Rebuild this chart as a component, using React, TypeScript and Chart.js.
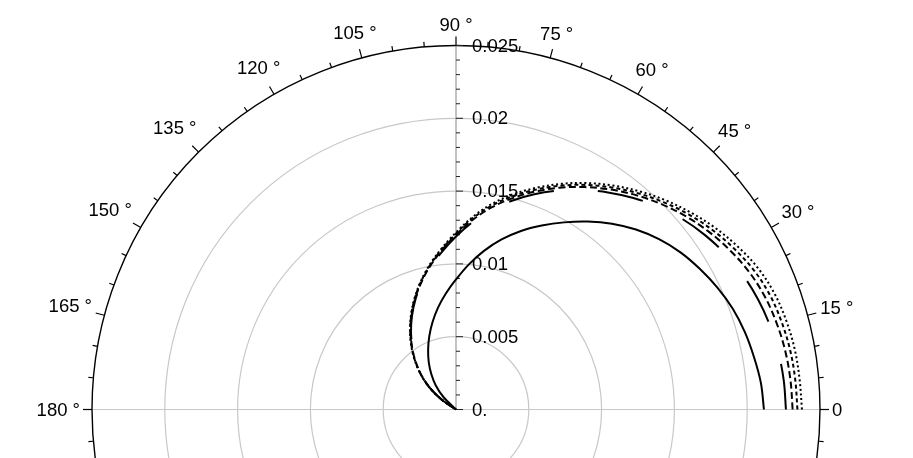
import { useEffect, useRef } from "react"
import { Chart, registerables } from "chart.js"

Chart.register(...registerables)

// angle of each sample, degrees
const angles = [
  0, 5, 10, 15, 20, 25, 30, 35, 40, 45, 50, 55, 60, 65, 70, 75, 80, 85, 90, 95, 100, 105, 110, 115, 120, 125,
  130, 135, 140, 145, 150,
]

// radius of each curve at those angles (null = curve already ended at the origin)
const solidR = [
  0.02115, 0.02102, 0.02078, 0.02054, 0.02023, 0.01981, 0.01933, 0.01882, 0.0182, 0.01748, 0.01666, 0.01576,
  0.01484, 0.01394, 0.01305, 0.01209, 0.01106, 0.00999, 0.00893, 0.008, 0.00711, 0.00622, 0.00536, 0.00453,
  0.00374, 0.00295, 0.00216, 0.00124, 0, null, null,
]
const longDashR = [
  0.02266, 0.0226, 0.02249, 0.02232, 0.02208, 0.02177, 0.02136, 0.02088, 0.02033, 0.01968, 0.01896, 0.0182,
  0.01741, 0.01659, 0.01573, 0.01484, 0.01391, 0.01291, 0.01188, 0.01089, 0.00996, 0.00903, 0.0081, 0.00714,
  0.00618, 0.00522, 0.00429, 0.00337, 0.0024, 0.00124, 0,
]
const dashR = [
  0.02312, 0.02306, 0.02297, 0.02281, 0.02259, 0.02225, 0.02178, 0.02124, 0.02063, 0.01995, 0.01922, 0.01845,
  0.01764, 0.01681, 0.01593, 0.01503, 0.01409, 0.01307, 0.012, 0.01099, 0.01005, 0.0091, 0.00816, 0.0072,
  0.00624, 0.00527, 0.00433, 0.00339, 0.00242, 0.00124, 0,
]
const shortDashR = [
  0.02345, 0.02339, 0.02331, 0.02316, 0.02295, 0.02259, 0.02207, 0.0215, 0.02085, 0.02014, 0.0194, 0.01862,
  0.01781, 0.01696, 0.01607, 0.01518, 0.01423, 0.01319, 0.01208, 0.01106, 0.01011, 0.00916, 0.0082, 0.00724,
  0.00628, 0.00532, 0.00437, 0.00341, 0.00243, 0.00124, 0,
]
const dottedR = [
  0.02376, 0.02369, 0.02363, 0.02349, 0.02328, 0.02291, 0.02236, 0.02174, 0.02105, 0.02033, 0.01957, 0.01878,
  0.01796, 0.0171, 0.01621, 0.01532, 0.01435, 0.01329, 0.01216, 0.01113, 0.01016, 0.0092, 0.00824, 0.00728,
  0.00632, 0.00536, 0.0044, 0.00343, 0.00244, 0.00124, 0,
]

const radialTicks = [0, 0.005, 0.01, 0.015, 0.02, 0.025]
const radialTickLabels = ["0.", "0.005", "0.01", "0.015", "0.02", "0.025"]
const gridRings = [0.005, 0.01, 0.015, 0.02]
const angleTicks = [0, 15, 30, 45, 60, 75, 90, 105, 120, 135, 150, 165, 180]
const angleTickLabels = ["0", "15 °", "30 °", "45 °", "60 °", "75 °", "90 °", "105 °", "120 °", "135 °", "150 °", "165 °", "180 °"]

const rMax = 0.025
const W = 913
const H = 458
const CX = 456
const CY = 409.5
const RPX = 364
const k = rMax / RPX // data units per pixel

const FONT = '18.5px "Liberation Sans", Arial, sans-serif'

function toXY(rs: (number | null)[]) {
  const pts: { x: number; y: number }[] = []
  rs.forEach((r, i) => {
    if (r === null) return
    const a = (angles[i] * Math.PI) / 180
    pts.push({ x: r * Math.cos(a), y: r * Math.sin(a) })
  })
  return pts
}

// polar frame: rings, axes, ticks and labels
const polarFrame = {
  id: "polarFrame",
  beforeDatasetsDraw(chart: Chart) {
    const { ctx } = chart
    const xs = chart.scales.x
    const ys = chart.scales.y
    const cx = xs.getPixelForValue(0)
    const cy = ys.getPixelForValue(0)
    const px = (v: number) => xs.getPixelForValue(v) - cx
    const R = px(rMax)

    ctx.save()

    // gray rings
    ctx.strokeStyle = "#c8c8c8"
    ctx.lineWidth = 1.2
    gridRings.forEach((v) => {
      ctx.beginPath()
      ctx.arc(cx, cy, px(v), 0, Math.PI * 2)
      ctx.stroke()
    })

    // horizontal axis through centre
    ctx.beginPath()
    ctx.moveTo(cx - R, cy)
    ctx.lineTo(cx + R, cy)
    ctx.stroke()

    // radial axis (vertical)
    ctx.strokeStyle = "#999"
    ctx.beginPath()
    ctx.moveTo(cx, cy)
    ctx.lineTo(cx, cy - R)
    ctx.stroke()

    // outer circle
    ctx.strokeStyle = "#000"
    ctx.lineWidth = 1.4
    ctx.beginPath()
    ctx.arc(cx, cy, R, 0, Math.PI * 2)
    ctx.stroke()

    // angular ticks every 5 degrees
    ctx.lineWidth = 1.2
    for (let a = 0; a < 360; a += 5) {
      const len = a % 15 === 0 ? 9 : 5
      const t = (a * Math.PI) / 180
      ctx.beginPath()
      ctx.moveTo(cx + R * Math.cos(t), cy - R * Math.sin(t))
      ctx.lineTo(cx + (R + len) * Math.cos(t), cy - (R + len) * Math.sin(t))
      ctx.stroke()
    }

    // radial ticks
    ctx.strokeStyle = "#222"
    ctx.lineWidth = 1
    for (let i = 0; i <= 25; i++) {
      const yy = cy - px(i * 0.001)
      const len = i % 5 === 0 ? 7 : 4
      ctx.beginPath()
      ctx.moveTo(cx, yy)
      ctx.lineTo(cx + len, yy)
      ctx.stroke()
    }

    ctx.fillStyle = "#000"
    ctx.font = FONT
    ctx.textBaseline = "middle"

    // radial labels
    ctx.textAlign = "left"
    radialTicks.forEach((v, i) => {
      ctx.fillText(radialTickLabels[i], cx + 16, cy - px(v) + 1)
    })

    // angular labels
    ctx.textAlign = "center"
    angleTicks.forEach((a, i) => {
      const t = (a * Math.PI) / 180
      const w = ctx.measureText(angleTickLabels[i]).width
      const h = 18
      const d = R + 12 + (w / 2) * Math.abs(Math.cos(t)) + (h / 2) * Math.abs(Math.sin(t))
      ctx.fillText(angleTickLabels[i], cx + d * Math.cos(t), cy - d * Math.sin(t) + 1)
    })

    ctx.restore()
  },
}

const lineStyle = {
  showLine: true,
  pointRadius: 0,
  borderColor: "#000",
  backgroundColor: "#000",
  borderWidth: 2,
  tension: 0.35,
  fill: false,
}

export default function App() {
  const canvasRef = useRef<HTMLCanvasElement>(null)

  useEffect(() => {
    document.body.style.margin = "0"
    if (!canvasRef.current) return
    const ctx = canvasRef.current.getContext("2d")
    if (!ctx) return

    const chart = new Chart(ctx, {
      type: "scatter",
      data: {
        datasets: [
          { ...lineStyle, label: "solid", data: toXY(solidR) },
          { ...lineStyle, label: "long dash", data: toXY(longDashR), borderDash: [46, 44] },
          { ...lineStyle, label: "dash", data: toXY(dashR), borderDash: [7, 3.5] },
          { ...lineStyle, label: "short dash", data: toXY(shortDashR), borderDash: [4, 3] },
          { ...lineStyle, label: "dotted", data: toXY(dottedR), borderDash: [2, 2.7] },
        ],
      },
      options: {
        responsive: false,
        animation: false,
        layout: { padding: 0 },
        scales: {
          x: { type: "linear", display: false, min: -CX * k, max: (W - CX) * k },
          y: { type: "linear", display: false, min: -(H - CY) * k, max: CY * k },
        },
        plugins: {
          legend: { display: false },
          tooltip: { enabled: false },
        },
      },
      plugins: [polarFrame],
    })

    return () => chart.destroy()
  }, [])

  return (
    <div style={{ width: W, height: H, background: "#fff" }}>
      <canvas ref={canvasRef} width={W} height={H} style={{ display: "block" }} />
    </div>
  )
}
